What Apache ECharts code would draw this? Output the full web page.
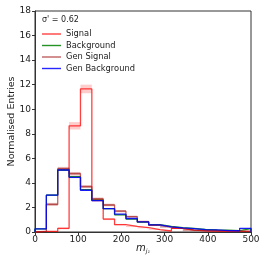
<!DOCTYPE html>
<html><head><meta charset="utf-8">
<script src="https://cdn.jsdelivr.net/npm/echarts@6/dist/echarts.min.js"></script>
<style>html,body{margin:0;padding:0;background:#fff}#c{width:266px;height:266px}</style>
</head><body><div id="c"></div>
<script>
const xMin = 0, xMax = 500, nBins = 19;
const binEdges = Array.from({length: nBins + 1}, (_, k) => xMin + k * (xMax - xMin) / nBins);
const xTicks = [0, 100, 200, 300, 400, 500];
const yTicks = [0, 2, 4, 6, 8, 10, 12, 14, 16, 18];
const seriesNames = ['Signal', 'Background', 'Gen Signal', 'Gen Background'];
const signal      = [0.05, 0.05, 0.30, 8.65, 11.65, 2.60, 1.05, 0.60, 0.45, 0.35, 0.20, 0.08, 0.30, 0.15, 0.10, 0.08, 0.05, 0.05, 0.05];
const signalErr   = [0.03, 0.03, 0.08, 0.30, 0.35, 0.15, 0.08, 0.06, 0.05, 0.05, 0.04, 0.03, 0.05, 0.04, 0.03, 0.03, 0.03, 0.03, 0.03];
const background  = [0.25, 3.00, 5.05, 4.50, 3.45, 2.60, 1.90, 1.40, 1.05, 0.80, 0.60, 0.45, 0.35, 0.30, 0.22, 0.18, 0.15, 0.12, 0.28];
const backgroundErr=[0.03, 0.06, 0.08, 0.07, 0.06, 0.05, 0.05, 0.04, 0.04, 0.03, 0.03, 0.03, 0.03, 0.03, 0.02, 0.02, 0.02, 0.02, 0.03];
const genSignal   = [0.05, 2.25, 5.15, 4.75, 3.70, 2.70, 2.20, 1.70, 1.25, 0.85, 0.55, 0.40, 0.30, 0.15, 0.12, 0.10, 0.10, 0.08, 0.05];
const genSignalErr= [0.04, 0.12, 0.15, 0.14, 0.12, 0.10, 0.10, 0.09, 0.08, 0.07, 0.06, 0.05, 0.05, 0.08, 0.06, 0.06, 0.06, 0.05, 0.04];
const genBackground=[0.25, 3.00, 5.05, 4.45, 3.40, 2.55, 1.90, 1.45, 1.10, 0.82, 0.58, 0.42, 0.33, 0.27, 0.20, 0.17, 0.12, 0.10, 0.30];
const genBackgroundErr=[0.03,0.06,0.08, 0.07, 0.06, 0.05, 0.05, 0.04, 0.04, 0.03, 0.03, 0.03, 0.03, 0.03, 0.02, 0.02, 0.02, 0.02, 0.03];
const sigmaText = "σ' = 0.62";

const colors = ['rgba(255,0,0,0.75)', 'rgba(0,128,0,0.85)', 'rgba(165,30,30,0.7)', 'rgba(0,0,255,0.85)'];
const bandColors = ['rgba(255,0,0,0.2)', 'rgba(0,128,0,0.2)', 'rgba(165,30,30,0.35)', 'rgba(0,0,255,0.2)'];
const values = [signal, background, genSignal, genBackground];
const errs = [signalErr, backgroundErr, genSignalErr, genBackgroundErr];

function stepData(v) {
  const d = v.map((y, k) => [binEdges[k], y]);
  d.push([binEdges[nBins], v[nBins - 1]]);
  d.push([binEdges[nBins], 0]);
  d.unshift([binEdges[0], 0]);
  return d;
}
function bandData(v, e) {
  return v.map((y, k) => [binEdges[k], binEdges[k + 1], y - e[k], y + e[k]]);
}
const series = [];
values.forEach((v, i) => {
  series.push({
    type: 'custom', name: seriesNames[i] + ' band', silent: true, z: 1,
    data: bandData(v, errs[i]),
    encode: {x: [0, 1], y: [2, 3]},
    renderItem: function (params, api) {
      const p0 = api.coord([api.value(0), api.value(3)]);
      const p1 = api.coord([api.value(1), Math.max(0, api.value(2))]);
      return {type: 'rect', shape: {x: p0[0], y: p0[1], width: p1[0] - p0[0], height: p1[1] - p0[1]},
        style: {fill: bandColors[i]}};
    }
  });
});
values.forEach((v, i) => {
  series.push({
    type: 'line', name: seriesNames[i], step: 'end', symbol: 'none', z: 3,
    data: stepData(v), lineStyle: {color: colors[i], width: 1.3}, itemStyle: {color: colors[i]}
  });
});

const chart = echarts.init(document.getElementById('c'), null, {renderer: 'canvas'});
chart.setOption({
  animation: false,
  grid: {left: 35, right: 15, top: 11, bottom: 34, containLabel: false, outerBoundsMode: 'none',
         show: true, borderColor: '#333', borderWidth: 1},
  xAxis: {
    type: 'value', min: xMin, max: xMax, interval: 100,
    axisLine: {show: true, onZero: false, lineStyle: {color: '#333'}},
    axisTick: {show: true, length: 3, lineStyle: {color: '#333'}},
    axisLabel: {color: '#222', fontSize: 9, fontFamily: 'DejaVu Sans', margin: 3},
    splitLine: {show: false},
    name: '{i|m}{s|j₁}', nameLocation: 'middle', nameGap: 11, nameMoveOverlap: false,
    nameTextStyle: {rich: {i: {fontStyle: 'italic', fontSize: 10, fontFamily: 'DejaVu Sans', color: '#222'},
                           s: {fontStyle: 'italic', fontSize: 6, fontFamily: 'DejaVu Sans', color: '#222', verticalAlign: 'bottom', padding: [5, 0, 0, 0]}}}
  },
  yAxis: {
    type: 'value', min: 0, max: 18, interval: 2,
    axisLine: {show: true, lineStyle: {color: '#333'}},
    axisTick: {show: true, length: 3, lineStyle: {color: '#333'}},
    axisLabel: {color: '#222', fontSize: 9, fontFamily: 'DejaVu Sans', margin: 4},
    splitLine: {show: false},
    name: 'Normalised Entries', nameLocation: 'middle', nameGap: 18, nameMoveOverlap: false,
    nameTextStyle: {fontSize: 9.5, fontFamily: 'DejaVu Sans', color: '#222'}
  },
  legend: {
    data: seriesNames.map((n, i) => ({name: n, itemStyle: {color: colors[i], borderWidth: 0}})),
    orient: 'vertical', left: 37, top: 24, itemGap: 1.5,
    itemWidth: 19, itemHeight: 1.4, icon: 'rect',
    itemStyle: {borderWidth: 0},
    lineStyle: {width: 0},
    textStyle: {fontSize: 8.3, fontFamily: 'DejaVu Sans', color: '#222', padding: [0, 0, 0, 0], lineHeight: 10},
    selectedMode: false
  },
  graphic: [{type: 'text', left: 42, top: 16, style: {text: sigmaText, fontSize: 8, fontFamily: 'DejaVu Sans', fill: '#222'}}],
  series: series
});
</script></body></html>
